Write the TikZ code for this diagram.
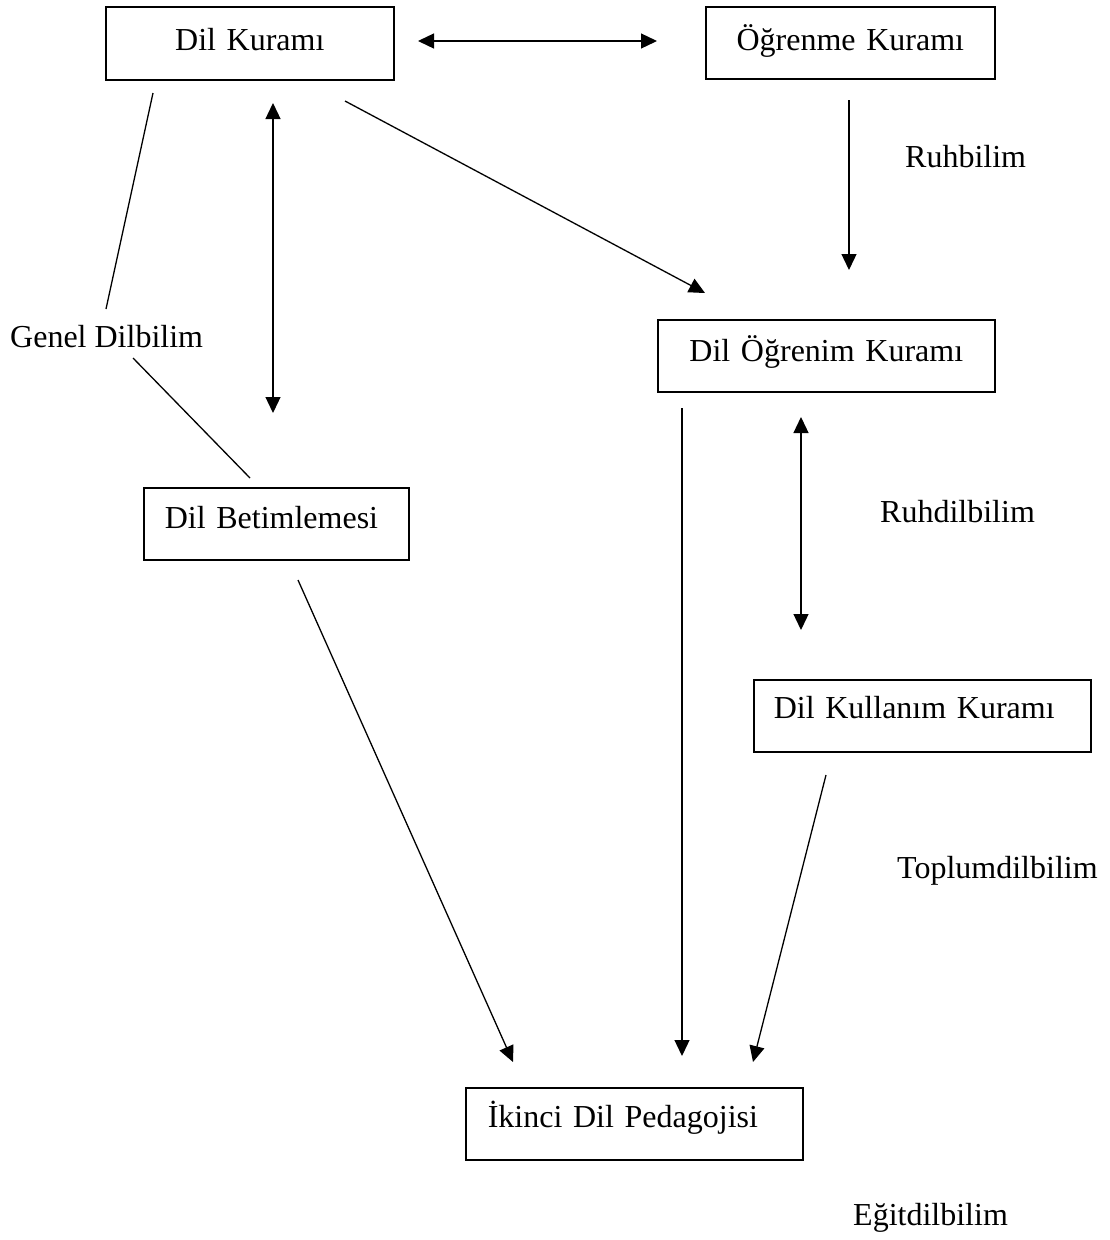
\documentclass[tikz,border=0pt]{standalone}
\usepackage{fontspec}
\setmainfont{Liberation Serif}
\usetikzlibrary{arrows.meta}
\begin{document}
\begin{tikzpicture}[x=1pt,y=-1pt,
  box/.style={draw, line width=1.6pt, inner ysep=0pt, anchor=north west,
    font=\fontsize{32}{38}\selectfont},
  lbl/.style={inner sep=0pt, anchor=base west, font=\fontsize{32}{38}\selectfont},
  conn/.style={line width=1.3pt},
  arr/.style={conn, -{Triangle[length=16pt,width=15pt]}},
  darr/.style={conn, {Triangle[length=16pt,width=15pt]}-{Triangle[length=16pt,width=15pt]}}]
\useasboundingbox (0,0) rectangle (1110,1240);

% boxes
\node[box, inner xsep=0pt, text width=288pt, align=center, text height=44pt, text depth=29pt] (dk) at (105,6) {Dil Kuramı};
\node[box, inner xsep=0pt, text width=289pt, align=center, text height=44pt, text depth=28pt] (ok) at (705,6) {Öğrenme Kuramı};
\node[box, inner xsep=0pt, text width=337pt, align=center, text height=42pt, text depth=30pt] (dok) at (657,319) {Dil Öğrenim Kuramı};
\node[box, inner xsep=21pt, text width=223pt, align=left, text height=41pt, text depth=31pt] (db) at (143,487) {Dil Betimlemesi};
\node[box, inner xsep=20pt, text width=297pt, align=left, text height=39pt, text depth=33pt] (dkk) at (753,679) {Dil Kullanım Kuramı};
\node[box, inner xsep=22pt, text width=293pt, align=left, text height=40pt, text depth=32pt] (idp) at (465,1087) {İkinci Dil Pedagojisi};

% labels
\node[lbl] (gd) at (10,347) {Genel Dilbilim};
\node[lbl] (rb) at (905,167) {Ruhbilim};
\node[lbl] (rdb) at (880,522) {Ruhdilbilim};
\node[lbl] (tdb) at (897,878) {Toplumdilbilim};
\node[lbl] (edb) at (853,1225) {Eğitdilbilim};

% connector end points
\coordinate (h1) at (418,41);
\coordinate (h2) at (657,41);
\coordinate (v1a) at (849,100);
\coordinate (v1b) at (849,270);
\coordinate (d1a) at (345,101);
\coordinate (d1b) at (705,293);
\coordinate (v2a) at (273,103);
\coordinate (v2b) at (273,413);
\coordinate (g1a) at (153,93);
\coordinate (g1b) at (106,309);
\coordinate (g2a) at (133,358);
\coordinate (g2b) at (250,478);
\coordinate (v3a) at (682,408);
\coordinate (v3b) at (682,1056);
\coordinate (v4a) at (801,417);
\coordinate (v4b) at (801,630);
\coordinate (d2a) at (298,580);
\coordinate (d2b) at (513,1062);
\coordinate (d3a) at (826,775);
\coordinate (d3b) at (753,1062);

% connectors
\draw[darr] (h1) -- (h2);
\draw[arr] (v1a) -- (v1b);
\draw[arr] (d1a) -- (d1b);
\draw[darr] (v2a) -- (v2b);
\draw[conn] (g1a) -- (g1b);
\draw[conn] (g2a) -- (g2b);
\draw[arr] (v3a) -- (v3b);
\draw[darr] (v4a) -- (v4b);
\draw[arr] (d2a) -- (d2b);
\draw[arr] (d3a) -- (d3b);
\end{tikzpicture}
\end{document}
